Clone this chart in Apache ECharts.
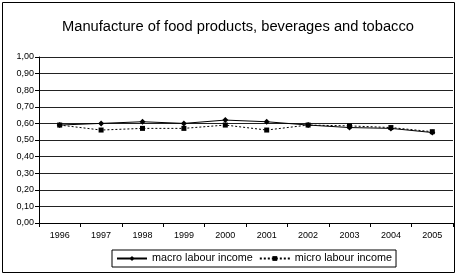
<!DOCTYPE html>
<html><head><meta charset="utf-8">
<script src="https://cdn.jsdelivr.net/npm/echarts@6/dist/echarts.min.js"></script>
<style>html,body{margin:0;padding:0;background:#fff}#c{width:457px;height:275px}</style>
</head><body><div id="c"></div>
<script>
const titleText = "Manufacture of food products, beverages and tobacco";
const years = ["1996","1997","1998","1999","2000","2001","2002","2003","2004","2005"];
const macroIncome = [0.59,0.60,0.61,0.60,0.62,0.61,0.59,0.575,0.57,0.545];
const microIncome = [0.59,0.56,0.57,0.57,0.59,0.56,0.59,0.585,0.575,0.55];
const seriesNames = ["macro labour income","micro labour income"];

const chart = echarts.init(document.getElementById('c'), null, {renderer:'canvas'});
const F = 'Arial, "Liberation Sans", sans-serif';
chart.setOption({
  animation:false,
  backgroundColor:'#fff',
  title:{text:titleText,left:57,top:14,textStyle:{fontFamily:F,fontSize:14.7,fontWeight:'normal',color:'#000'}},
  graphic:[{type:'rect',shape:{x:2.5,y:2.5,width:452,height:270},style:{fill:'none',stroke:'#000',lineWidth:1},silent:true}],
  grid:{left:39,right:4,top:57,bottom:52},
  legend:{bottom:8,left:112,itemWidth:30,itemHeight:6,itemGap:6,borderColor:'#000',borderWidth:1,padding:[3,4],
    textStyle:{fontFamily:F,fontSize:10.8,color:'#000'},
    data:seriesNames},
  xAxis:{type:'category',data:years,boundaryGap:true,
    axisLine:{lineStyle:{color:'#000',width:1}},
    axisTick:{show:true,alignWithLabel:false,length:4,lineStyle:{color:'#000'}},
    axisLabel:{fontFamily:F,fontSize:9,color:'#000',margin:8}},
  yAxis:{type:'value',min:0,max:1,interval:0.1,
    axisLine:{show:true,lineStyle:{color:'#000'}},
    axisTick:{show:true,length:4,lineStyle:{color:'#000'}},
    splitLine:{lineStyle:{color:'#222',width:1}},
    axisLabel:{fontFamily:F,fontSize:9,color:'#000',margin:5,formatter:v=>v.toFixed(2).replace('.',',')}},
  series:[
    {name:seriesNames[0],type:'line',data:macroIncome,symbol:'diamond',symbolSize:6,
     lineStyle:{color:'#000',width:1},itemStyle:{color:'#000'}},
    {name:seriesNames[1],type:'line',data:microIncome,symbol:'rect',symbolSize:5,
     lineStyle:{color:'#000',width:1,type:[2,2]},itemStyle:{color:'#000'}}
  ]
});
</script></body></html>
